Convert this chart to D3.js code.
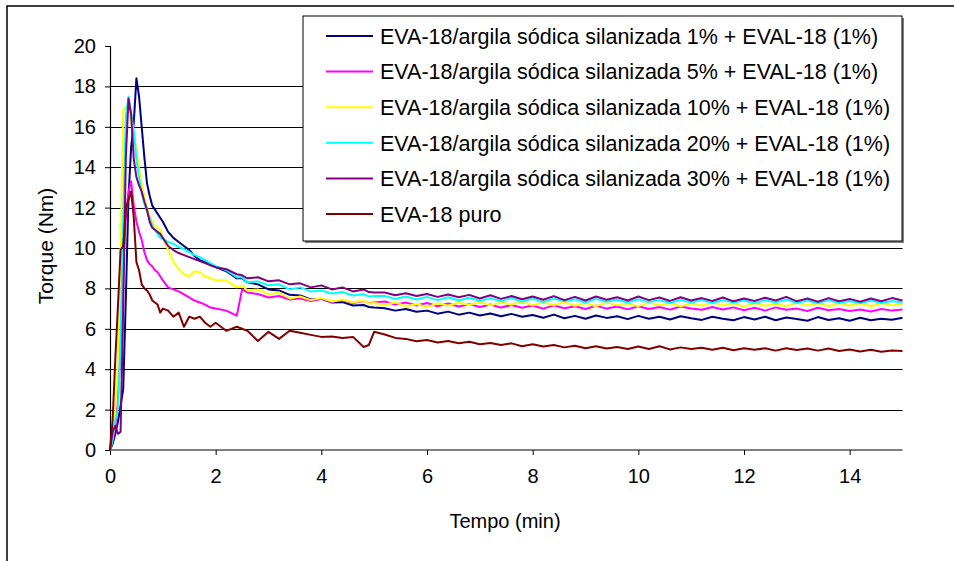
<!DOCTYPE html>
<html>
<head>
<meta charset="utf-8">
<script src="https://cdn.jsdelivr.net/npm/d3@7"></script>
<style>
  html, body { margin: 0; padding: 0; background: #fff; }
  svg { display: block; }
  text { font-family: "Liberation Sans", Arial, sans-serif; fill: #000; }
</style>
</head>
<body>
<svg id="chart" width="954" height="561"></svg>
<script>
// ---------- DATA ----------
const time = [
  0, 0.05, 0.1, 0.15, 0.2, 0.25, 0.3, 0.35, 0.4, 0.45, 0.5, 0.55, 0.6, 0.65, 0.7, 0.75, 0.8, 0.85, 0.9, 0.95, 1.0,
  1.1, 1.2, 1.3, 1.4, 1.5, 1.6, 1.7, 1.8, 1.9, 2.0,
  2.2, 2.4, 2.5, 2.6, 2.8, 3.0, 3.2, 3.4, 3.6, 3.8, 4.0, 4.2, 4.4, 4.6, 4.8, 4.9, 5.0,
  5.2, 5.4, 5.6, 5.8, 6.0, 6.2, 6.4, 6.6, 6.8, 7.0, 7.2, 7.4, 7.6, 7.8, 8.0,
  8.2, 8.4, 8.6, 8.8, 9.0, 9.2, 9.4, 9.6, 9.8, 10.0, 10.2, 10.4, 10.6, 10.8, 11.0,
  11.2, 11.4, 11.6, 11.8, 12.0, 12.2, 12.4, 12.6, 12.8, 13.0, 13.2, 13.4, 13.6, 13.8, 14.0,
  14.2, 14.4, 14.6, 14.8, 15.0
];

const sil1 = [
  0, 0.3, 0.8, 1.4, 2.2, 3.0, 7.5, 12.5, 15.0, 16.2, 18.4, 17.5, 16.0, 14.5, 13.2, 12.6, 12.1, 11.9, 11.7, 11.5, 11.3,
  10.8, 10.5, 10.3, 10.1, 9.9, 9.6, 9.4, 9.3, 9.15, 9.05,
  8.85, 8.5, 8.5, 8.3, 8.2, 7.95, 7.9, 7.68, 7.65, 7.45, 7.48, 7.3, 7.32, 7.15, 7.18, 7.08, 7.05,
  7.02, 6.9, 6.98, 6.84, 6.9, 6.75, 6.85, 6.7, 6.8, 6.66, 6.76, 6.62, 6.74, 6.6, 6.68,
  6.55, 6.7, 6.52, 6.64, 6.5, 6.66, 6.54, 6.62, 6.48, 6.64, 6.5, 6.6, 6.46, 6.62, 6.52,
  6.44, 6.6, 6.5, 6.42, 6.58, 6.46, 6.6, 6.42, 6.56, 6.48, 6.4, 6.58, 6.44, 6.52, 6.4,
  6.55, 6.42, 6.5, 6.45, 6.55
];

const sil5 = [
  0, 0.5, 1.2, 2.5, 5.0, 9.0, 11.5, 12.8, 13.3, 12.1, 11.3, 10.8, 10.4, 9.8, 9.4, 9.2, 9.1, 8.9, 8.8, 8.6, 8.4,
  8.05, 7.95, 7.85, 7.7, 7.55, 7.4, 7.3, 7.2, 7.05, 7.0,
  6.9, 6.65, 7.95, 7.8, 7.72, 7.55, 7.62, 7.45, 7.5, 7.38, 7.48, 7.32, 7.42, 7.28, 7.38, 7.26, 7.3,
  7.35, 7.2, 7.3, 7.15, 7.28, 7.12, 7.25, 7.1, 7.22, 7.08, 7.2, 7.05, 7.18, 7.04, 7.15,
  7.0, 7.16, 7.02, 7.12, 6.98, 7.14, 7.0, 7.1, 6.96, 7.12, 6.98, 7.08, 6.95, 7.1, 7.0,
  6.94, 7.08, 6.96, 7.06, 6.92, 7.04, 6.9, 7.06, 6.94, 7.0, 6.88, 7.04, 6.92, 6.98, 6.88,
  6.96, 6.86, 6.98, 6.9, 6.95
];

const sil10 = [
  0, 0.6, 2.0, 4.5, 10.0, 16.8, 17.0, 16.8, 16.3, 15.6, 14.85, 13.9, 13.2, 12.5, 12.0, 11.6, 11.3, 11.1, 11.0, 10.9, 10.5,
  9.9, 9.3, 8.95, 8.7, 8.6, 8.85, 8.8, 8.6, 8.5, 8.4,
  8.4, 8.05, 8.15, 7.9, 7.95, 7.7, 7.8, 7.5, 7.6, 7.42, 7.52, 7.35, 7.45, 7.3, 7.4, 7.25, 7.28,
  7.2, 7.3, 7.12, 7.22, 7.08, 7.26, 7.14, 7.3, 7.18, 7.32, 7.16, 7.3, 7.2, 7.34, 7.16,
  7.3, 7.18, 7.32, 7.14, 7.28, 7.12, 7.3, 7.16, 7.26, 7.12, 7.3, 7.16, 7.28, 7.12, 7.26,
  7.14, 7.3, 7.16, 7.26, 7.1, 7.28, 7.14, 7.24, 7.12, 7.3, 7.16, 7.26, 7.12, 7.28, 7.14,
  7.26, 7.12, 7.28, 7.16, 7.24
];

const sil20 = [
  0, 0.5, 1.5, 2.0, 5.5, 11.5, 16.5, 17.5, 16.7, 15.8, 14.4, 13.5, 12.7, 12.2, 11.8, 11.5, 11.1, 10.9, 10.7, 10.5, 10.45,
  10.3, 10.2, 10.05, 9.95, 9.8, 9.65, 9.55, 9.4, 9.25, 9.1,
  8.9, 8.55, 8.55, 8.3, 8.35, 8.15, 8.2, 7.95, 8.05, 7.85, 7.9, 7.75, 7.82, 7.65, 7.72, 7.6, 7.62,
  7.62, 7.48, 7.6, 7.45, 7.58, 7.42, 7.56, 7.4, 7.55, 7.38, 7.52, 7.36, 7.54, 7.34, 7.5,
  7.32, 7.5, 7.36, 7.46, 7.3, 7.48, 7.34, 7.44, 7.3, 7.46, 7.32, 7.42, 7.28, 7.44, 7.3,
  7.44, 7.28, 7.42, 7.3, 7.4, 7.26, 7.42, 7.3, 7.45, 7.28, 7.4, 7.26, 7.42, 7.28, 7.38,
  7.26, 7.4, 7.28, 7.38, 7.3
];

const sil30 = [
  0, 0.9, 1.2, 0.8, 0.9, 7.0, 14.5, 17.4, 16.6, 14.4, 13.5, 13.1, 12.8, 12.3, 11.9, 11.3, 11.0, 10.9, 10.8, 10.7, 10.5,
  10.1, 9.9, 9.75, 9.65, 9.55, 9.45, 9.35, 9.25, 9.15, 9.05,
  8.95, 8.7, 8.65, 8.5, 8.55, 8.35, 8.4, 8.2, 8.25, 8.05, 8.15, 7.95, 8.05, 7.85, 7.95, 7.82, 7.8,
  7.8, 7.66, 7.76, 7.62, 7.72, 7.58, 7.7, 7.56, 7.68, 7.5, 7.66, 7.48, 7.62, 7.46, 7.6,
  7.44, 7.62, 7.42, 7.58, 7.4, 7.6, 7.44, 7.56, 7.4, 7.6, 7.42, 7.55, 7.38, 7.56, 7.4,
  7.52, 7.38, 7.55, 7.36, 7.5, 7.38, 7.54, 7.4, 7.58, 7.36, 7.5, 7.34, 7.52, 7.36, 7.48,
  7.34, 7.5, 7.36, 7.52, 7.4
];

const puro = [
  0, 1.5, 4.5, 7.1, 9.9, 10.1, 11.9, 12.4, 12.8, 11.5, 9.3, 8.9, 8.2, 8.0, 7.9, 7.7, 7.4, 7.3, 7.2, 6.8, 7.0,
  6.9, 6.6, 6.8, 6.1, 6.6, 6.5, 6.6, 6.3, 6.1, 6.3,
  5.9, 6.1, 6.0, 5.9, 5.4, 5.85, 5.5, 5.9, 5.8, 5.7, 5.6, 5.62, 5.55, 5.6, 5.1, 5.2, 5.85,
  5.72, 5.55, 5.5, 5.38, 5.45, 5.32, 5.4, 5.28, 5.36, 5.24, 5.3, 5.2, 5.28, 5.14, 5.24,
  5.12, 5.2, 5.08, 5.16, 5.04, 5.14, 5.02, 5.1, 5.0, 5.12, 5.0, 5.14, 4.98, 5.08, 5.0,
  5.06, 4.96, 5.06, 4.94, 5.04, 4.96, 5.04, 4.92, 5.04, 4.95, 5.02, 4.92, 5.02, 4.9, 4.98,
  4.88, 4.96, 4.86, 4.92, 4.9
];

const seriesNames = [
  "EVA-18/argila sódica silanizada 1% + EVAL-18 (1%)",
  "EVA-18/argila sódica silanizada 5% + EVAL-18 (1%)",
  "EVA-18/argila sódica silanizada 10% + EVAL-18 (1%)",
  "EVA-18/argila sódica silanizada 20% + EVAL-18 (1%)",
  "EVA-18/argila sódica silanizada 30% + EVAL-18 (1%)",
  "EVA-18 puro"
];
const seriesValues = [sil1, sil5, sil10, sil20, sil30, puro];
const seriesColors = ["#000080", "#FF00FF", "#FFFF00", "#00FFFF", "#800080", "#800000"];

const xTicks = [0, 2, 4, 6, 8, 10, 12, 14];
const yTicks = [0, 2, 4, 6, 8, 10, 12, 14, 16, 18, 20];
const yGrid = [2, 4, 6, 8, 10, 12, 14, 16, 18];

// ---------- LAYOUT ----------
const svg = d3.select("#chart");
const plot = { left: 110, right: 902.5, top: 46, bottom: 450 };

const x = d3.scaleLinear().domain([0, 15]).range([plot.left, plot.right]);
const y = d3.scaleLinear().domain([0, 20]).range([plot.bottom, plot.top]);

// outer chart border (extends beyond the window on right/bottom)
svg.append("rect")
  .attr("x", 7).attr("y", 6).attr("width", 1000).attr("height", 600)
  .attr("fill", "none").attr("stroke", "#000").attr("stroke-width", 1.5);

// gridlines
svg.append("g").selectAll("line").data(yGrid).join("line")
  .attr("x1", plot.left).attr("x2", plot.right)
  .attr("y1", d => Math.round(y(d)) + 0.5).attr("y2", d => Math.round(y(d)) + 0.5)
  .attr("stroke", "#000").attr("stroke-width", 1);

// y axis
const yAxis = d3.axisLeft(y).tickValues(yTicks).tickSize(5).tickPadding(9).tickFormat(d3.format("d"));
const gy = svg.append("g").attr("transform", `translate(${plot.left},0)`).call(yAxis);
gy.select(".domain").attr("stroke", "#000").attr("stroke-width", 1.2);
gy.selectAll(".tick line").attr("stroke", "#000");
gy.selectAll(".tick text").style("font-size", "20px").style("font-family", "Liberation Sans, Arial, sans-serif").attr("fill", "#000");

// x axis
const xAxis = d3.axisBottom(x).tickValues(xTicks).tickSize(5).tickPadding(14).tickFormat(d3.format("d"));
const gx = svg.append("g").attr("transform", `translate(0,${plot.bottom})`).call(xAxis);
gx.select(".domain").attr("stroke", "#808080").attr("stroke-width", 2)
  .attr("d", `M${plot.left},0H${plot.right}`);
gx.selectAll(".tick line").attr("stroke", "#000");
gx.selectAll(".tick text").style("font-size", "20px").style("font-family", "Liberation Sans, Arial, sans-serif").attr("fill", "#000");

// series lines
const line = d3.line().x((d, i) => x(time[i])).y(d => y(d));
svg.append("g").selectAll("path").data(seriesValues).join("path")
  .attr("d", d => line(d))
  .attr("fill", "none")
  .attr("stroke", (d, i) => seriesColors[i])
  .attr("stroke-width", 2)
  .attr("stroke-linejoin", "round");

// axis titles
svg.append("text").attr("x", 505).attr("y", 528).attr("text-anchor", "middle")
  .style("font-size", "20px").text("Tempo (min)");
svg.append("text").attr("transform", "translate(53,246) rotate(-90)").attr("text-anchor", "middle")
  .style("font-size", "21px").text("Torque (Nm)");

// legend
const leg = { x: 303, y: 16, w: 599, h: 225 };
svg.append("rect").attr("x", leg.x + 2).attr("y", leg.y + 2).attr("width", leg.w).attr("height", leg.h)
  .attr("fill", "#808080");
svg.append("rect").attr("x", leg.x).attr("y", leg.y).attr("width", leg.w).attr("height", leg.h)
  .attr("fill", "#fff").attr("stroke", "#000").attr("stroke-width", 1);
const rowY = d3.scaleLinear().domain([0, 5]).range([leg.y + 20, leg.y + 198]);
const lg = svg.append("g").selectAll("g").data(seriesNames).join("g")
  .attr("transform", (d, i) => `translate(0,${rowY(i)})`);
lg.append("line").attr("x1", 326).attr("x2", 373).attr("y1", 0).attr("y2", 0)
  .attr("stroke", (d, i) => seriesColors[i]).attr("stroke-width", 2);
lg.append("text").attr("x", 380).attr("y", 0).attr("dy", "0.36em")
  .style("font-size", "21.5px").text(d => d);
</script>
</body>
</html>
